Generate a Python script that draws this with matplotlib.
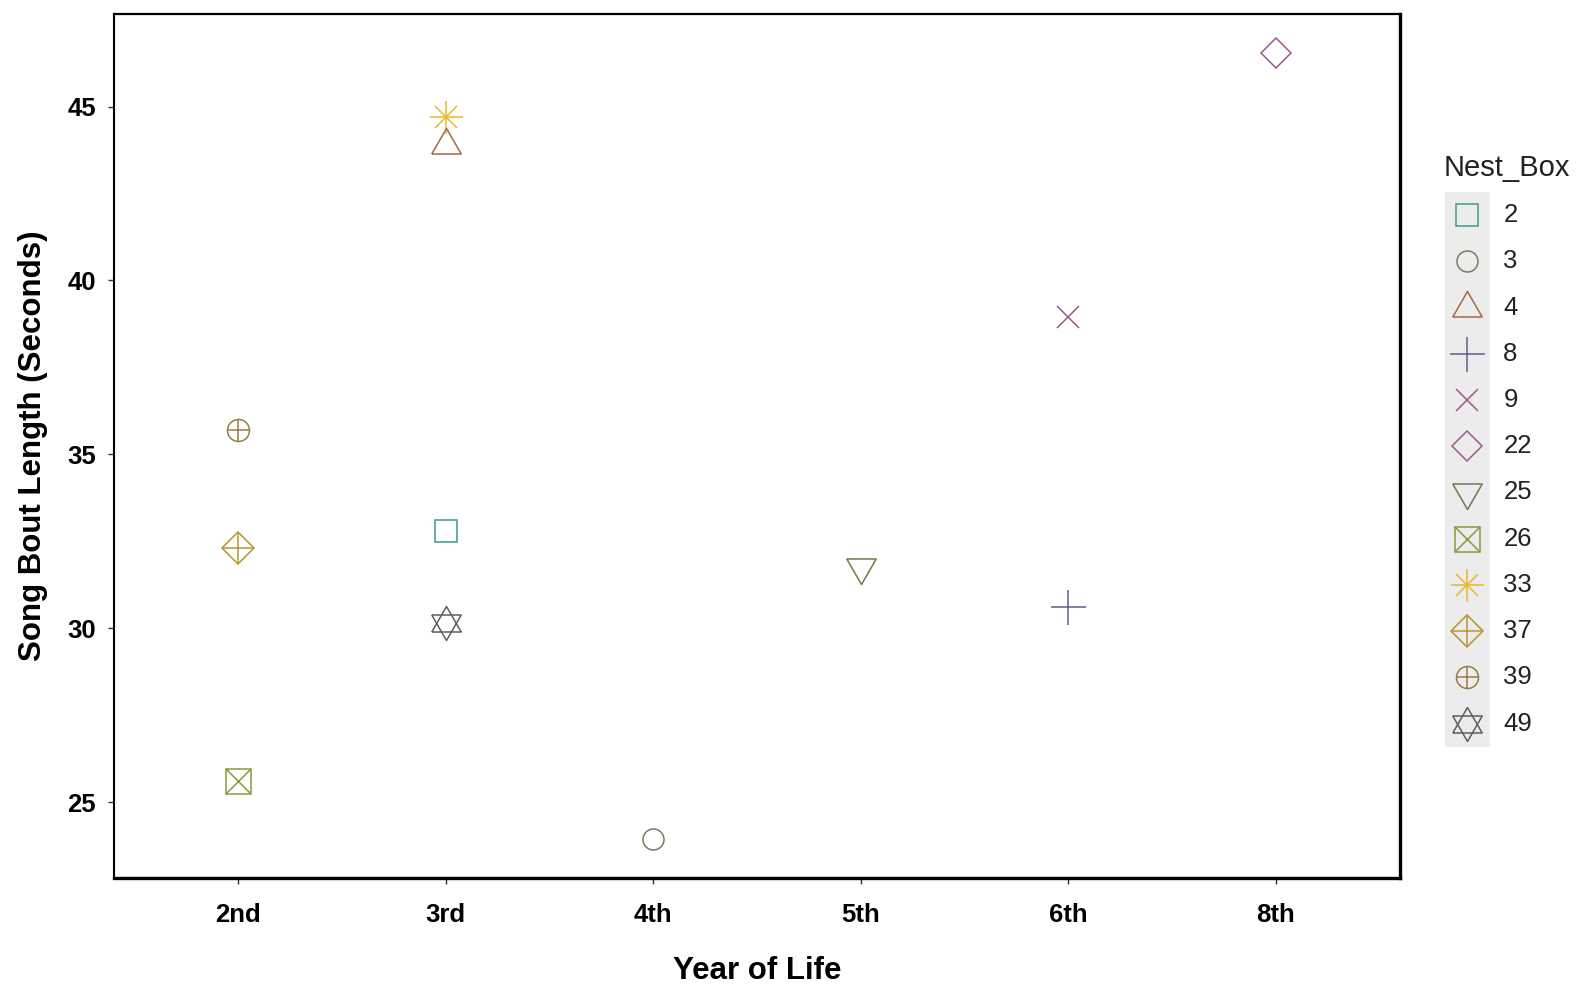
import numpy as np
import matplotlib
matplotlib.use('Agg')
import matplotlib.pyplot as plt

plt.rcParams['font.family'] = ['Liberation Sans', 'DejaVu Sans']

# Data
years      = ['2nd', '3rd', '4th', '5th', '6th', '8th']
nest_boxes = ['2', '3', '4', '8', '9', '22', '25', '26', '33', '37', '39', '49']
point_box  = ['39', '37', '26', '33', '4', '2', '49', '3', '25', '9', '8', '22']
point_year = ['2nd', '2nd', '2nd', '3rd', '3rd', '3rd', '3rd', '4th', '5th', '6th', '6th', '8th']
bout_len   = [35.7, 32.3, 25.6, 44.7, 43.9, 32.8, 30.15, 23.95, 31.75, 38.95, 30.6, 46.55]

# colours per nest box
colors = {
    '2': '#3c9a8c', '3': '#7a7a62', '4': '#a06a4a', '8': '#5e5e88',
    '9': '#9a5a88', '22': '#9a5a90', '25': '#6e7a4a', '26': '#8a9a3a',
    '33': '#e8b828', '37': '#b8962e', '39': '#9a7a46', '49': '#5e5e5e',
}

TRI_UP = [(-1, -0.577), (1, -0.577), (0, 1.155), (-1, -0.577)]
TRI_DN = [(x, -y) for x, y in TRI_UP]

# ggplot-like open shapes: list of (marker, size in px) layers
shapes = {
    '2':  [('s', 22)],
    '3':  [('o', 21)],
    '4':  [(TRI_UP, 34)],
    '8':  [('+', 35)],
    '9':  [('x', 23)],
    '22': [('D', 21)],
    '25': [(TRI_DN, 34)],
    '26': [('s', 25), ('x', 25)],
    '33': [('+', 33), ('x', 23)],
    '37': [('D', 22), ('+', 31)],
    '39': [('o', 22), ('+', 22)],
    '49': [(TRI_UP, 34), (TRI_DN, 34)],
}

W, H = 1578, 986
fig = plt.figure(figsize=(W / 100, H / 100), dpi=100)
ax = fig.add_axes([114 / W, 1 - 877.6 / H, (1400 - 114) / W, (877.6 - 14.1) / H])


def draw(axis, x, y, box):
    for mk, px in shapes[box]:
        axis.plot(x, y, linestyle='none', marker=mk, markersize=px * 0.72,
                  markerfacecolor='none', markeredgecolor=colors[box],
                  markeredgewidth=1.1, clip_on=False)


xpos = {y: i for i, y in enumerate(years)}
for box, yr, val in zip(point_box, point_year, bout_len):
    draw(ax, xpos[yr], val, box)

ax.set_xlim(-0.6, len(years) - 0.4)
ax.set_ylim(22.83, 47.66)
ax.set_xticks(range(len(years)))
ax.set_xticklabels(years)
ax.set_yticks([25, 30, 35, 40, 45])
ax.tick_params(axis='both', length=4, width=1, color='#333333',
               labelsize=18.5, labelcolor='black')
ax.tick_params(axis='y', pad=9)
ax.tick_params(axis='x', pad=14)
for lab in ax.get_xticklabels() + ax.get_yticklabels():
    lab.set_fontweight('bold')

ax.spines['left'].set_linewidth(1.5)
ax.spines['top'].set_linewidth(1.6)
ax.spines['right'].set_linewidth(2.4)
ax.spines['bottom'].set_linewidth(2.4)
for s in ax.spines.values():
    s.set_color('black')

ax.set_xlabel('Year of Life', fontsize=22.5, fontweight='bold')
ax.set_ylabel('Song Bout Length (Seconds)', fontsize=22.5, fontweight='bold')
ax.xaxis.set_label_coords(0.5, -(956 - 877.6) / 863.5)
ax.yaxis.set_label_coords((48 - 114) / 1286, 0.5)

# legend drawn by hand so the key column gets ggplot's grey background
lax = fig.add_axes([1445 / W, 1 - 746.7 / H, 44.5 / W, 554.7 / H])
lax.set_facecolor('#ececec')
for s in lax.spines.values():
    s.set_visible(False)
lax.set_xticks([])
lax.set_yticks([])
lax.set_xlim(0, 1)
lax.set_ylim(len(nest_boxes) - 0.5, -0.5)
for i, box in enumerate(nest_boxes):
    draw(lax, 0.5, i, box)
    lax.text(1.31, i, box, fontsize=18.5, va='center', ha='left', color='#222222',
             clip_on=False)
lax.text(-0.02, -1.03, 'Nest_Box', fontsize=21, va='center', ha='left',
         color='#222222', clip_on=False)

plt.savefig('out.png', dpi=100)
